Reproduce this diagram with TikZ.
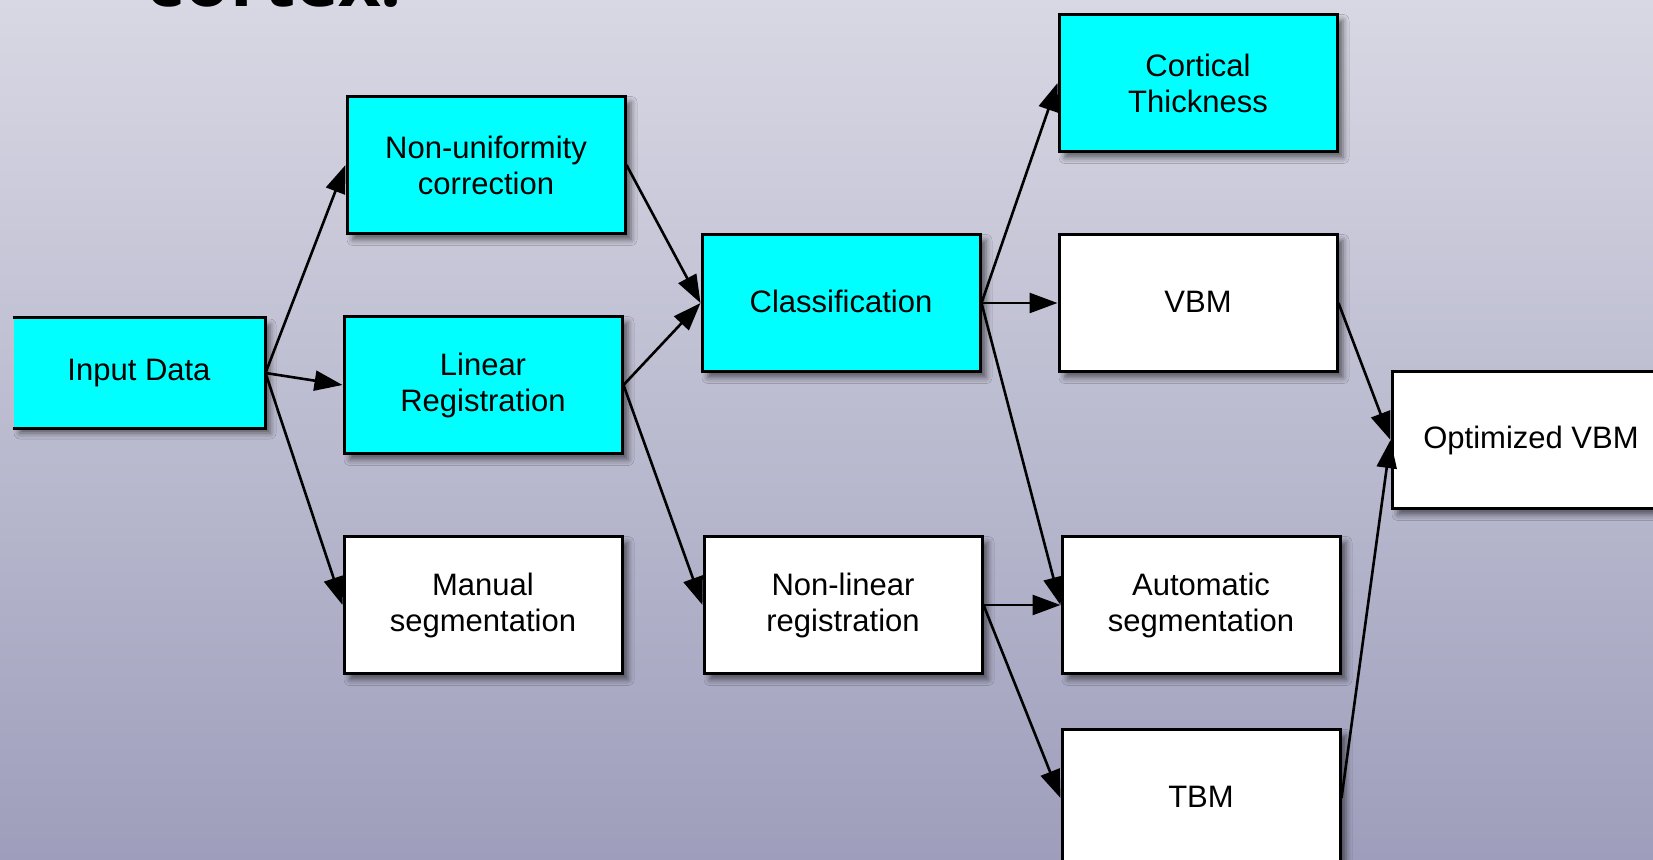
\documentclass[tikz,border=0pt]{standalone}
\usepackage{fontspec}
\setmainfont{Liberation Sans}
\newfontfamily\titlefont{Open Sans}
\usetikzlibrary{arrows.meta,shadows.blur}
\definecolor{bgtop}{RGB}{216,216,228}
\definecolor{bgbot}{RGB}{158,158,188}
\definecolor{boxcyan}{RGB}{0,255,255}
\tikzset{
  box/.style={draw=black, line width=1.5pt, minimum width=139pt, minimum height=68.5pt,
    inner sep=0pt, align=center, font=\fontsize{15.5}{18}\selectfont,
    blur shadow={shadow xshift=3pt, shadow yshift=-3pt, shadow blur radius=3pt, shadow opacity=55}},
  cyanbox/.style={box, fill=boxcyan},
  whitebox/.style={box, fill=white},
  conn/.style={line width=1.3pt, -{Triangle[length=14pt,width=10pt]}, shorten >=0pt}
}
\newcommand{\up}[1]{\raisebox{1.5pt}{\begin{tabular}{@{}c@{}}#1\end{tabular}}}
\begin{document}
\begin{tikzpicture}[x=0.5pt,y=-0.5pt]
\useasboundingbox (0,0) rectangle (1653,860);
\clip (0,0) rectangle (1653,860);
\fill[top color=bgtop, bottom color=bgbot] (0,0) rectangle (1653,860);
\node[anchor=base west, font=\titlefont\bfseries\fontsize{37}{40}\selectfont, inner sep=0pt] (title) at (146,7) {cortex.};
% Input data without left border
\node[box, fill=boxcyan, draw=none, minimum width=125pt, minimum height=54pt] (in) at (139,373) {Input Data};
\draw[line width=1.5pt] (in.north west) -- (in.north east) -- (in.south east) -- (in.south west);
\node[cyanbox] (nu) at (486,165) {Non-uniformity\\correction};
\node[cyanbox] (lr) at (483,385) {Linear\\Registration};
\node[whitebox] (ms) at (483,605) {Manual\\segmentation};
\node[cyanbox] (cl) at (841,303) {\raisebox{1.5pt}{Classification}};
\node[whitebox] (nl) at (843,605) {Non-linear\\registration};
\node[cyanbox] (ct) at (1198,83) {Cortical\\Thickness};
\node[whitebox] (vbm) at (1198,303) {\raisebox{1.5pt}{VBM}};
\node[whitebox] (as) at (1201,605) {Automatic\\segmentation};
\node[whitebox] (tbm) at (1201,798) {\raisebox{1.5pt}{TBM}};
\node[whitebox] (ov) at (1531,440) {Optimized VBM};
\draw[conn] (in.east) -- (nu.west);
\draw[conn] (in.east) -- (lr.west);
\draw[conn] (in.east) -- (ms.west);
\draw[conn] (nu.east) -- (cl.west);
\draw[conn] (lr.east) -- (cl.west);
\draw[conn] (lr.east) -- (nl.west);
\draw[conn] (cl.east) -- (ct.west);
\draw[conn] (cl.east) -- (vbm.west);
\draw[conn] (cl.east) -- (as.west);
\draw[conn] (nl.east) -- (as.west);
\draw[conn] (nl.east) -- (tbm.west);
\draw[conn] (vbm.east) -- (ov.west);
\draw[conn] (tbm.east) -- (ov.west);
\end{tikzpicture}
\end{document}
